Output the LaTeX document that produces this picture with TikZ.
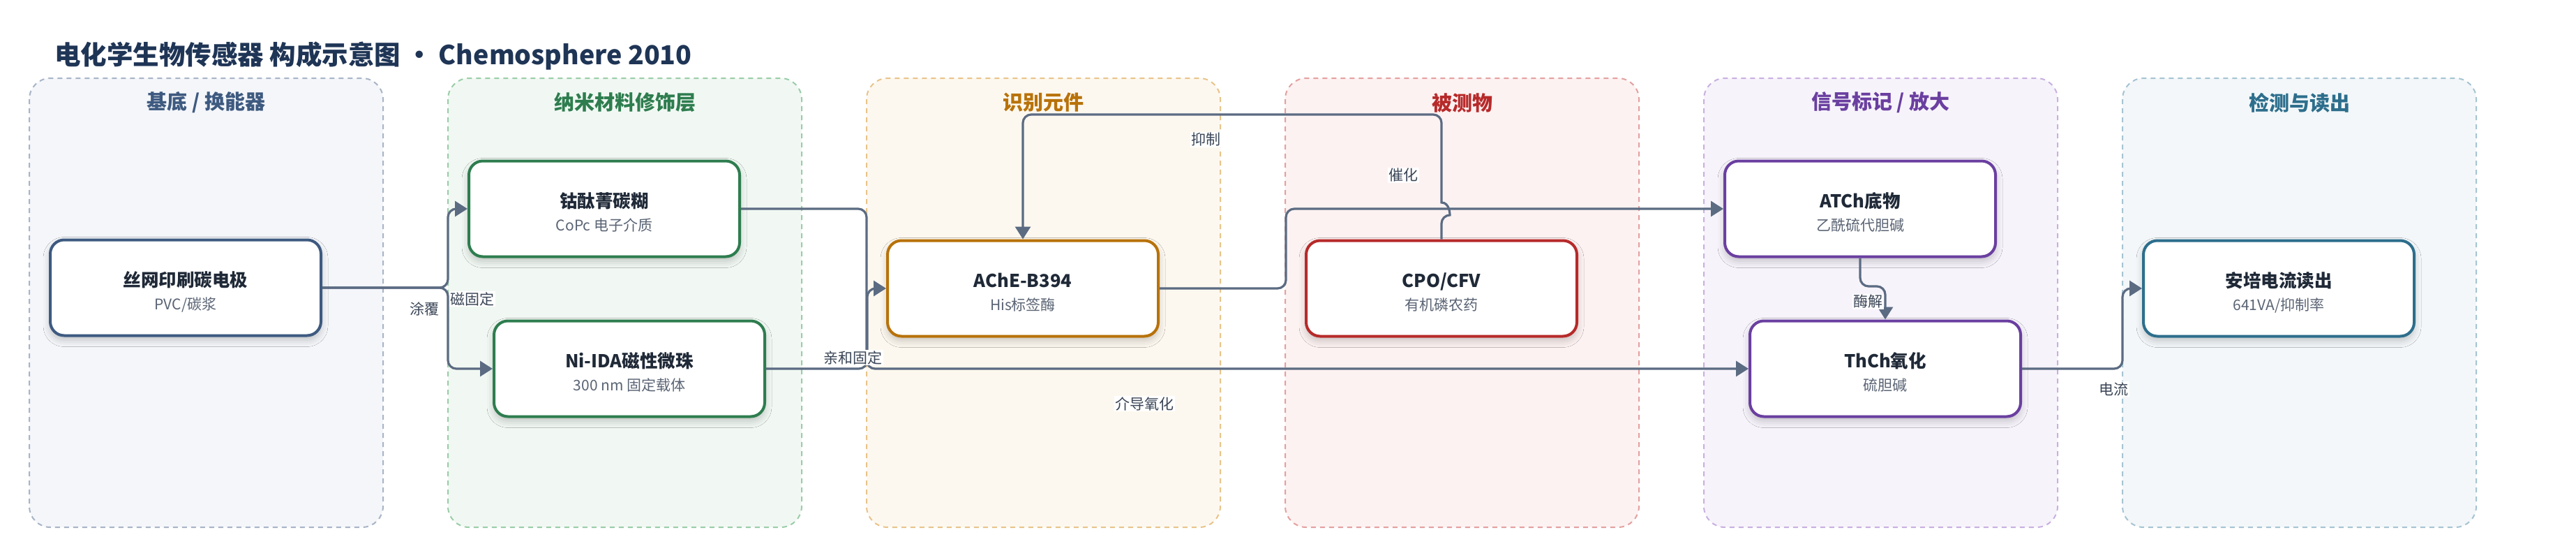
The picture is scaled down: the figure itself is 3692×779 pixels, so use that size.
\documentclass[tikz,border=0pt]{standalone}
\usepackage{fontspec}
\setmainfont{Noto Sans CJK SC}
\usetikzlibrary{arrows.meta,shadows.blur}
\definecolor{edgec}{HTML}{5B6B82}
\definecolor{textdark}{HTML}{1F2937}
\definecolor{textgray}{HTML}{5A6474}
\definecolor{labelc}{HTML}{3A4556}
\definecolor{titlec}{HTML}{1F3556}
\definecolor{fA}{HTML}{F4F6FA}\definecolor{dA}{HTML}{A8B4C6}\definecolor{cA}{HTML}{3E5A80}
\definecolor{fB}{HTML}{F1F8F3}\definecolor{dB}{HTML}{9ACDA8}\definecolor{cB}{HTML}{2E7D4F}
\definecolor{fC}{HTML}{FDF8EF}\definecolor{dC}{HTML}{E8C48A}\definecolor{cC}{HTML}{B8720A}
\definecolor{fD}{HTML}{FDF2F2}\definecolor{dD}{HTML}{E4A0A0}\definecolor{cD}{HTML}{B72A2A}
\definecolor{fE}{HTML}{F7F3FB}\definecolor{dE}{HTML}{C8B0E0}\definecolor{cE}{HTML}{6A3FA0}
\definecolor{fF}{HTML}{F3F7F9}\definecolor{dF}{HTML}{A6C4D2}\definecolor{cF}{HTML}{2D6E8C}
\begin{document}
\begin{tikzpicture}[x=1pt,y=-1pt,
  panel/.style={rounded corners=30pt, dash pattern=on 7pt off 6pt, line width=2pt},
  ptitle/.style={font=\fontsize{29}{34}\selectfont\bfseries},
  box/.style={rectangle, rounded corners=20pt, fill=white, line width=4pt,
    minimum width=388pt, minimum height=137pt, inner sep=0pt,
    blur shadow={shadow xshift=0pt,shadow yshift=-6pt,shadow blur radius=10pt,shadow opacity=22}},
  maintext/.style={anchor=base, font=\fontsize{25.5}{30}\selectfont\bfseries, text=textdark},
  subtext/.style={anchor=base, font=\fontsize{21}{25}\selectfont, text=textgray},
  elabel/.style={font=\fontsize{21}{25}\selectfont, text=labelc, fill=white, inner sep=1.5pt},
  edge/.style={draw=edgec, line width=3.2pt, rounded corners=12pt, -{Triangle[length=18pt,width=22pt]}}
]
\useasboundingbox[fill=white] (0,0) rectangle (3692,779);

% title
\node[anchor=base west, font=\fontsize{37.5}{42}\selectfont\bfseries, text=titlec, inner sep=0pt] (title) at (78,92)
  {电化学生物传感器 构成示意图 • Chemosphere 2010};

% panels
\draw[panel, fill=fA, draw=dA] (42,112) rectangle (549,755);
\draw[panel, fill=fB, draw=dB] (642,112) rectangle (1149,755);
\draw[panel, fill=fC, draw=dC] (1242,112) rectangle (1749,755);
\draw[panel, fill=fD, draw=dD] (1842,112) rectangle (2349,755);
\draw[panel, fill=fE, draw=dE] (2442,112) rectangle (2949,755);
\draw[panel, fill=fF, draw=dF] (3042,112) rectangle (3549,755);

\node[ptitle, text=cA] (tA) at (295.5,147) {基底 / 换能器};
\node[ptitle, text=cB] (tB) at (895.5,147) {纳米材料修饰层};
\node[ptitle, text=cC] (tC) at (1495.5,147) {识别元件};
\node[ptitle, text=cD] (tD) at (2095.5,147) {被测物};
\node[ptitle, text=cE] (tE) at (2695.5,147) {信号标记 / 放大};
\node[ptitle, text=cF] (tF) at (3295.5,147) {检测与读出};

% nodes
\node[box, draw=cA] (n1) at (266,412) {};
\node[box, draw=cB] (n2) at (866,299) {};
\node[box, draw=cB] (n3) at (902,528) {};
\node[box, draw=cC] (n4) at (1466,413) {};
\node[box, draw=cD] (n5) at (2066,413) {};
\node[box, draw=cE] (n6) at (2666,299) {};
\node[box, draw=cE] (n7) at (2702,528) {};
\node[box, draw=cF] (n8) at (3266,413) {};

\node[maintext] (m1) at ([yshift=1.5pt]n1.center) {丝网印刷碳电极};
\node[subtext]  (s1) at ([yshift=-31pt]n1.center) {PVC/碳浆};
\node[maintext] (m2) at ([yshift=1.5pt]n2.center) {钴酞菁碳糊};
\node[subtext]  (s2) at ([yshift=-31pt]n2.center) {CoPc 电子介质};
\node[maintext] (m3) at ([yshift=1.5pt]n3.center) {Ni-IDA磁性微珠};
\node[subtext]  (s3) at ([yshift=-31pt]n3.center) {300 nm 固定载体};
\node[maintext] (m4) at ([yshift=1.5pt]n4.center) {AChE-B394};
\node[subtext]  (s4) at ([yshift=-31pt]n4.center) {His标签酶};
\node[maintext] (m5) at ([yshift=1.5pt]n5.center) {CPO/CFV};
\node[subtext]  (s5) at ([yshift=-31pt]n5.center) {有机磷农药};
\node[maintext] (m6) at ([yshift=1.5pt]n6.center) {ATCh底物};
\node[subtext]  (s6) at ([yshift=-31pt]n6.center) {乙酰硫代胆碱};
\node[maintext] (m7) at ([yshift=1.5pt]n7.center) {ThCh氧化};
\node[subtext]  (s7) at ([yshift=-31pt]n7.center) {硫胆碱};
\node[maintext] (m8) at ([yshift=1.5pt]n8.center) {安培电流读出};
\node[subtext]  (s8) at ([yshift=-31pt]n8.center) {641VA/抑制率};

% edges
\draw[edge] (n1.east) -- (642,412) |- (n2.west);
\draw[edge] (n1.east) -- (642,412) |- (n3.west);
\draw[edge] (n3.east) -- (1243,528) |- (n4.west);
\draw[edge] (n2.east) -- (1242,299) |- (n7.west);
\draw[edge] (n4.east) -- (1843,413) |- (n6.west);
\draw[edge] (n5.north) -- (2066,308) [sharp corners] .. controls (2078,308) and (2078,290) .. (2066,290)
  [rounded corners=12pt] -- (2066,164) -| (n4.north);
\draw[edge] (n6.south) -- (2666,410) -| (n7.north);
\draw[edge] (n7.east) -- (3042,528) |- (n8.west);

% edge labels
\node[elabel] (l1) at (608,442) {涂覆};
\node[elabel] (l2) at (677,428) {磁固定};
\node[elabel] (l3) at (1222,512) {亲和固定};
\node[elabel] (l4) at (1640,578) {介导氧化};
\node[elabel] (l5) at (2011,251) {催化};
\node[elabel] (l6) at (1728,200) {抑制};
\node[elabel] (l7) at (2677,432) {酶解};
\node[elabel] (l8) at (3029,557) {电流};
\end{tikzpicture}
\end{document}
